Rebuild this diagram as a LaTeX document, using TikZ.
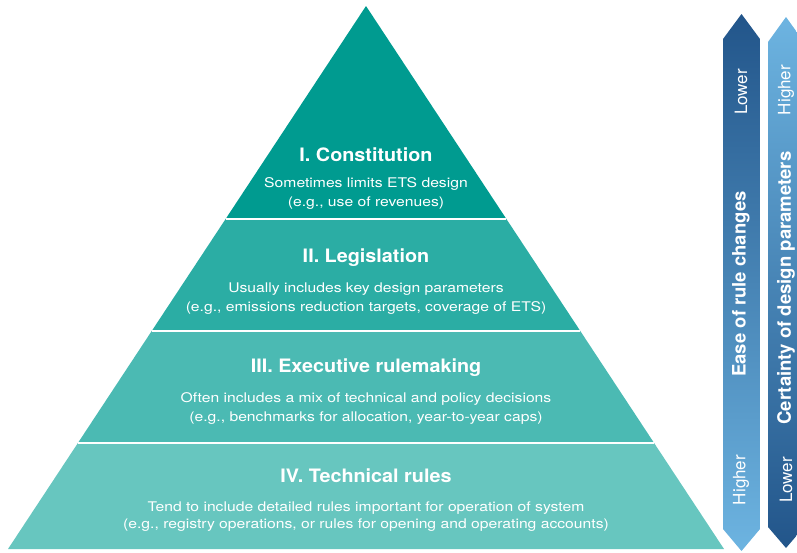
\documentclass[tikz,border=0pt]{standalone}
\usepackage{fontspec}
\setmainfont{TeX Gyre Heros}
\newfontfamily\titlefont[FakeStretch=1.07]{TeX Gyre Heros}
\newfontfamily\descfont[FakeStretch=1.18]{TeX Gyre Heros}
\begin{document}
\begin{tikzpicture}[x=1pt,y=-1pt,
  title/.style={text=white,font=\titlefont\fontsize{18.5}{22}\selectfont\bfseries,anchor=base,inner sep=0pt},
  desc/.style={text=white,font=\descfont\fontsize{13.3}{18}\selectfont,anchor=base,inner sep=0pt},
  arrlbl/.style={text=white,font=\fontsize{17}{20}\selectfont,rotate=90,anchor=center,inner sep=0pt},
  arrttl/.style={text=white,font=\fontsize{18.5}{22}\selectfont\bfseries,rotate=90,anchor=center,inner sep=0pt},
  sep/.style={white,line width=2pt}]
\definecolor{tealA}{HTML}{009B90}
\definecolor{tealB}{HTML}{2BADA4}
\definecolor{tealC}{HTML}{4BBAB3}
\definecolor{tealD}{HTML}{67C6BF}
\definecolor{navy}{HTML}{22558A}
\definecolor{skyb}{HTML}{6DB4E1}
\useasboundingbox (0,0) rectangle (797,552);
\clip (0,0) rectangle (797,552);
% pyramid corner coordinates
\coordinate (apex) at (366,6);
\coordinate (l1) at (225.6,219); \coordinate (r1) at (506.4,219);
\coordinate (l2) at (151.7,331); \coordinate (r2) at (580.3,331);
\coordinate (l3) at (77.9,443);  \coordinate (r3) at (654.1,443);
\coordinate (l4) at (8,549);     \coordinate (r4) at (724,549);
\fill[tealA] (apex) -- (r1) -- (l1) -- cycle;
\fill[tealB] (l1) -- (r1) -- (r2) -- (l2) -- cycle;
\fill[tealC] (l2) -- (r2) -- (r3) -- (l3) -- cycle;
\fill[tealD] (l3) -- (r3) -- (r4) -- (l4) -- cycle;
\draw[sep] (l1) -- (r1);
\draw[sep] (l2) -- (r2);
\draw[sep] (l3) -- (r3);
% texts
\node[title] (t1) at (366,161.7) {I. Constitution};
\node[desc] (d1a) at (366,187.7) {Sometimes limits ETS design};
\node[desc] (d1b) at (366,206.5) {(e.g., use of revenues)};
\node[title] (t2) at (366,262.3) {II. Legislation};
\node[desc] (d2a) at (366,292.3) {Usually includes key design parameters};
\node[desc] (d2b) at (366,311) {(e.g., emissions reduction targets, coverage of ETS)};
\node[title] (t3) at (366,372.3) {III. Executive rulemaking};
\node[desc] (d3a) at (366,402.3) {Often includes a mix of technical and policy decisions};
\node[desc] (d3b) at (366,421) {(e.g., benchmarks for allocation, year-to-year caps)};
\node[title] (t4) at (366,482.3) {IV. Technical rules};
\node[desc] (d4a) at (366,511.7) {Tend to include detailed rules important for operation of system};
\node[desc] (d4b) at (366,528.5) {(e.g., registry operations, or rules for opening and operating accounts)};
% arrows
\shade[top color=navy,bottom color=skyb]
  (741.5,14) -- (760,39) -- (760,529) -- (741.5,551) -- (723,529) -- (723,39) -- cycle;
\shade[top color=skyb,bottom color=navy]
  (786,17) -- (804,42) -- (804,527) -- (786,548) -- (768,527) -- (768,42) -- cycle;
\node[arrlbl] (a1) at (741,92) {Lower};
\node[arrttl] (a2) at (741,284) {Ease of rule changes};
\node[arrlbl] (a3) at (741,480) {Higher};
\node[arrlbl] (b1) at (786,90) {Higher};
\node[arrttl] (b2) at (786,288) {Certainty of design parameters};
\node[arrlbl] (b3) at (786,480) {Lower};
\end{tikzpicture}
\end{document}
